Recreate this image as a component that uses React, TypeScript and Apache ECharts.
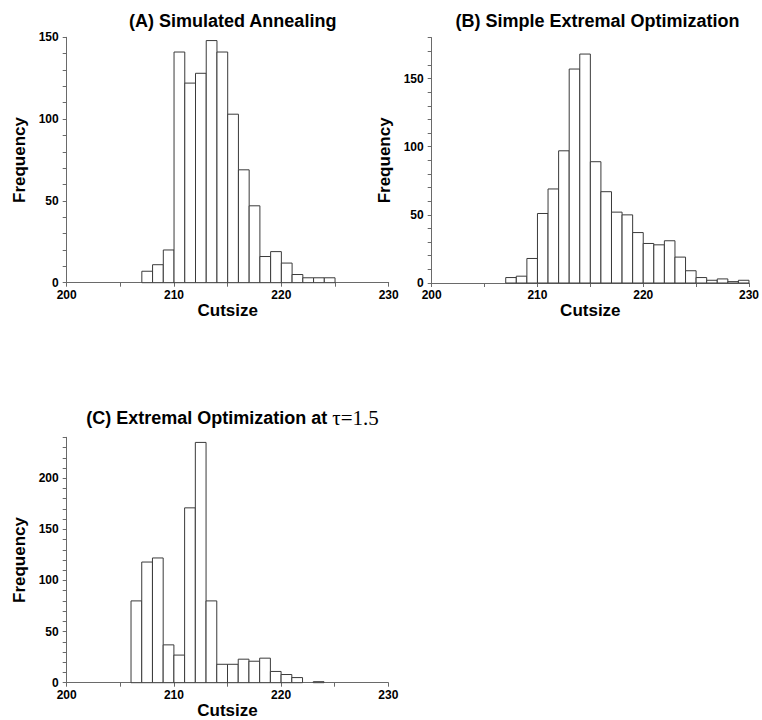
import React, { useEffect, useRef } from "react";
import * as echarts from "echarts";

// Histogram data: cutsize bin starts (bin width 1) and frequencies
const binsA = [207, 208, 209, 210, 211, 212, 213, 214, 215, 216, 217, 218, 219, 220, 221, 222, 223, 224];
const freqA = [7, 11, 20, 141, 122, 128, 148, 141, 103, 69, 47, 16, 19, 12, 5, 3, 3, 3];

const binsB = [207, 208, 209, 210, 211, 212, 213, 214, 215, 216, 217, 218, 219, 220, 221, 222, 223, 224, 225, 226, 227, 228, 229];
const freqB = [4, 5, 18, 51, 69, 97, 157, 168, 89, 67, 52, 50, 37, 29, 28, 31, 19, 9, 4, 2, 3, 1, 2];

const binsC = [206, 207, 208, 209, 210, 211, 212, 213, 214, 215, 216, 217, 218, 219, 220, 221, 222, 223];
const freqC = [80, 118, 122, 37, 27, 171, 235, 80, 18, 18, 23, 21, 24, 11, 8, 5, 0, 1];

const titles = ["(A) Simulated Annealing", "(B) Simple Extremal Optimization", "(C) Extremal Optimization at "];
const titleCTail = "τ=1.5";
const xName = "Cutsize";
const yName = "Frequency";
const yMax = [150, 180, 240];

const SANS = "'Liberation Sans', Arial, Helvetica, sans-serif";
const SERIF = "'Liberation Serif', 'Times New Roman', serif";

export default function App() {
  const ref = useRef<HTMLDivElement>(null);

  useEffect(() => {
    if (!ref.current) return;
    const chart = echarts.init(ref.current, null, { renderer: "svg" });

    const grids = [
      { left: 66.7, top: 37.3, width: 322, height: 245.4 },
      { left: 431.7, top: 37.7, width: 321.6, height: 245.3 },
      { left: 66.7, top: 437.3, width: 321.6, height: 245.4 },
    ];

    const axisColor = "#6a6a6a";

    const xAxes = grids.map((_, i) => ({
      type: "value",
      gridIndex: i,
      min: 200,
      max: 230,
      interval: 5,
      name: xName,
      nameLocation: "middle",
      nameGap: 19,
      nameTextStyle: { fontFamily: SANS, fontWeight: "bold", fontSize: 17, color: "#000" },
      axisLine: { show: true, onZero: false, lineStyle: { color: axisColor, width: 1 } },
      axisTick: { show: true, length: 4, lineStyle: { color: axisColor } },
      axisLabel: {
        margin: 6,
        fontFamily: SANS,
        fontWeight: "bold",
        fontSize: 12,
        color: "#000",
        formatter: (v: number) => (v % 10 === 0 ? String(v) : ""),
      },
      splitLine: { show: false },
    }));

    const yAxes = grids.map((_, i) => ({
      type: "value",
      gridIndex: i,
      min: 0,
      max: yMax[i],
      interval: 10,
      name: yName,
      nameLocation: "middle",
      nameGap: 39,
      nameRotate: 90,
      nameTextStyle: { fontFamily: SANS, fontWeight: "bold", fontSize: 17, color: "#000" },
      axisLine: { show: true, lineStyle: { color: axisColor, width: 1 } },
      axisTick: { show: true, length: 4, lineStyle: { color: axisColor } },
      axisLabel: {
        margin: 8,
        fontFamily: SANS,
        fontWeight: "bold",
        fontSize: 12,
        color: "#000",
        formatter: (v: number) => (v % 50 === 0 ? String(v) : ""),
      },
      splitLine: { show: false },
    }));

    const renderItem = (params: any, api: any) => {
      const x0 = api.value(0);
      const y = api.value(1);
      if (!y) return null;
      const p0 = api.coord([x0, 0]);
      const p1 = api.coord([x0 + 1, y]);
      return {
        type: "rect",
        shape: { x: p0[0], y: p1[1], width: p1[0] - p0[0], height: p0[1] - p1[1] },
        style: { fill: "#ffffff", stroke: "#3a3a3a", lineWidth: 1 },
      };
    };

    const mk = (bins: number[], freq: number[], i: number) => ({
      type: "custom",
      xAxisIndex: i,
      yAxisIndex: i,
      renderItem,
      data: bins.map((b, k) => [b, freq[k]]),
      clip: false,
    });

    const gridCenter = (g: any) => g.left + g.width / 2;

    chart.setOption({
      animation: false,
      backgroundColor: "#ffffff",
      title: [
        {
          text: titles[0],
          left: gridCenter(grids[0]),
          top: 7,
          textAlign: "center",
          textStyle: { fontFamily: SANS, fontWeight: "bold", fontSize: 18, color: "#000" },
        },
        {
          text: titles[1],
          left: gridCenter(grids[1]),
          top: 7,
          textAlign: "center",
          textStyle: { fontFamily: SANS, fontWeight: "bold", fontSize: 18, color: "#000" },
        },
        {
          text: "{a|" + titles[2] + "}{b|" + titleCTail + "}",
          left: gridCenter(grids[2]),
          top: 402,
          textAlign: "center",
          textStyle: {
            rich: {
              a: { fontFamily: SANS, fontWeight: "bold", fontSize: 18, color: "#000" },
              b: { fontFamily: SERIF, fontWeight: "normal", fontSize: 21, color: "#000" },
            },
          },
        },
      ],
      grid: grids,
      xAxis: xAxes,
      yAxis: yAxes,
      series: [mk(binsA, freqA, 0), mk(binsB, freqB, 1), mk(binsC, freqC, 2)],
    });

    return () => chart.dispose();
  }, []);

  return (
    <div
      ref={ref}
      style={{ position: "fixed", left: 0, top: 0, width: 762, height: 720, background: "#fff" }}
    />
  );
}
